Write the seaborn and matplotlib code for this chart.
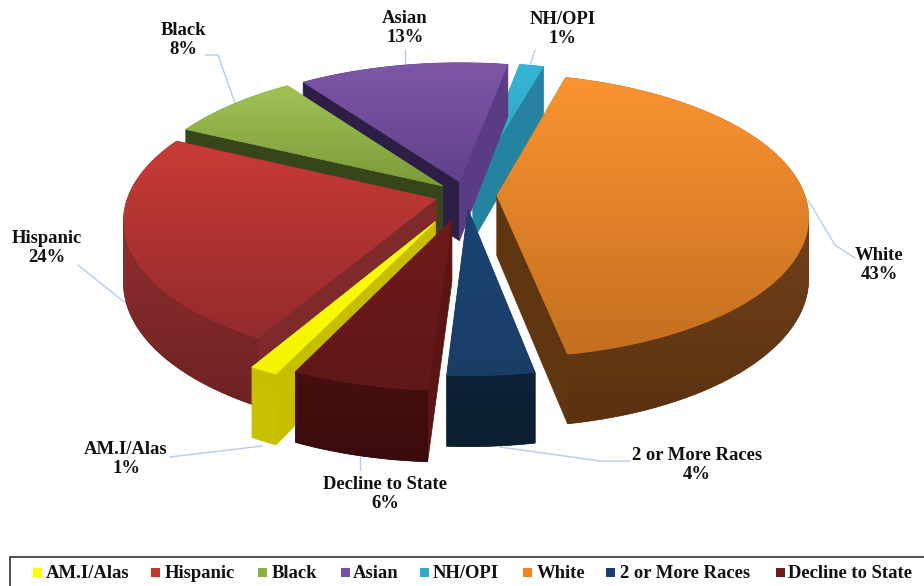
import numpy as np
import seaborn as sns
import matplotlib.pyplot as plt
from matplotlib.patches import Polygon, Rectangle

categories = ['AM.I/Alas','Hispanic','Black','Asian','NH/OPI','White','2 or More Races','Decline to State']
percents   = [1.25,24.0,8.0,12.6,1.45,42.75,3.9,6.05]

legendColors = sns.color_palette(['#ffff00','#c0392f','#8fb03e','#75509f','#31a9c9','#f58220','#1a3f6f','#701a1a'])

# top of slice (far edge, near edge)
topColors  = [('#ffff00','#f4f400'),('#c93b37','#932b2c'),('#a0c255','#7c9c38'),('#7f56a8','#60428a'),
              ('#35b4d6','#2ea3c4'),('#fb9430','#c46f20'),('#1a4370','#1a3d68'),('#701a1a','#5f1717')]
# outer wall (upper, lower)
wallColors = [('#c8be00','#c8c400'),('#8f2e2e','#6e2222'),('#37461a','#37461a'),('#2d1e46','#2d1e46'),
              ('#23829f','#23829f'),('#71411a','#5a3210'),('#0c2238','#0c1e30'),('#470f0f','#3a0b0b')]
# radial walls (first edge, last edge)
edgeColors = [('#c8be00','#c8be00'),('#7f2a2a','#7f2a2a'),('#37461a','#37461a'),('#2d1e46','#5a3c82'),
              ('#25839f','#25839f'),('#7a4413','#5f3610'),('#0c2238','#0c2238'),('#5a1414','#5a1414')]

drawOrder = [4,3,2,5,1,0,6,7]

cx,cy,a,b,k,depth = 466.,195.,308.,139.,0.14,60.
startAngle = 244.8
explode    = [0.21,0.10,0.10,0.10,0.10,0.10,0.10,0.18]

def project(X,Y,Z=0.):
    w = 1+k*Y
    return cx+a*X/w, cy-b*Y/w+depth*Z/w

def shoelace(p):
    p = np.array(p)
    q = np.roll(p,-1,axis=0)
    return np.sum(p[:,0]*q[:,1]-q[:,0]*p[:,1])

def gradientFill(ax,pts,c0,c1,z):
    pts = np.array(pts)
    base = Polygon(pts,closed=True,facecolor=c1,edgecolor=c1,lw=0.5,zorder=z)
    ax.add_patch(base)
    x0,x1,y0,y1 = pts[:,0].min(),pts[:,0].max(),pts[:,1].min(),pts[:,1].max()
    c0,c1 = np.array(sns.color_palette([c0,c1]))
    ramp = np.linspace(0,1,64)[:,None,None]
    img = (c0[None,None,:]*(1-ramp)+c1[None,None,:]*ramp)
    im = ax.imshow(img,extent=(x0,x1,y1,y0),aspect='auto',zorder=z,interpolation='bilinear')
    im.set_clip_path(Polygon(pts,closed=True,transform=ax.transData))

def drawSlice(ax,t0,t1,ex,colTop,colWall,colEdge,z):
    mid = np.radians((t0+t1)/2)
    ox,oy = ex*np.cos(mid),ex*np.sin(mid)
    ts = np.radians(np.linspace(t0,t1,80))
    X,Y = ox+np.cos(ts),oy+np.sin(ts)

    top = [project(ox,oy)]+[project(x,y) for x,y in zip(X,Y)]

    e0 = [project(ox,oy),project(X[0],Y[0]),project(X[0],Y[0],1),project(ox,oy,1)]
    e1 = [project(X[-1],Y[-1]),project(ox,oy),project(ox,oy,1),project(X[-1],Y[-1],1)]
    if shoelace(e0)<0:
        ax.add_patch(Polygon(e0,closed=True,facecolor=colEdge[0],edgecolor=colEdge[0],lw=0.5,zorder=z))
    if shoelace(e1)<0:
        ax.add_patch(Polygon(e1,closed=True,facecolor=colEdge[1],edgecolor=colEdge[1],lw=0.5,zorder=z))

    vis = [i for i in range(len(ts)-1) if shoelace([project(X[i],Y[i]),project(X[i+1],Y[i+1]),
                                                    project(X[i+1],Y[i+1],1),project(X[i],Y[i],1)])<0]
    if vis:
        idx = list(range(vis[0],vis[-1]+2))
        wall = [project(X[i],Y[i]) for i in idx]+[project(X[i],Y[i],1) for i in idx[::-1]]
        gradientFill(ax,wall,colWall[0],colWall[1],z+0.1)

    gradientFill(ax,top,colTop[0],colTop[1],z+0.2)

if __name__ == "__main__":
    sns.set_theme(style='white')
    plt.rcParams['font.family'] = ['Liberation Serif','DejaVu Serif']

    fig = plt.figure(figsize=(9.24,5.86),dpi=100)
    ax = fig.add_axes([0,0,1,1])

    angles = startAngle-3.6*np.concatenate([[0],np.cumsum(percents)])
    for n,i in enumerate(drawOrder):
        drawSlice(ax,angles[i],angles[i+1],explode[i],topColors[i],wallColors[i],edgeColors[i],10+n)

    ax.set_xlim(0,924)
    ax.set_ylim(586,0)
    ax.axis('off')

    # labels and their leader lines
    labelX = [126,47,183,405,563,879,697,385]
    labelY = [459,248,40,28,29,265,465,494]
    for x,y,c,p in zip(labelX,labelY,categories,percents):
        ax.text(x,y,'{:s}\n{:.0f}%'.format(c,p),ha='center',va='center',fontsize=13.4,fontweight='bold',
                color='#111111',linespacing=1.12,zorder=50)

    leaders = [[(170,457),(262,446)],
               [(78,265),(128,305)],
               [(205,55),(218,55),(235,103)],
               [(405,50),(405,65)],
               [(535,50),(530,65)],
               [(855,258),(835,245),(808,200)],
               [(630,461),(600,461),(500,447)],
               [(360,470),(360,455)]]
    for line in leaders:
        xs,ys = zip(*line)
        ax.plot(xs,ys,color='#b4cdec',lw=1,zorder=5)

    # legend box
    ax.add_patch(Rectangle((10,557),930,40,facecolor='white',edgecolor='#333333',lw=1.2,zorder=40,clip_on=True))
    squareX = [33,151,258,341,420,523,606,776]
    textX   = [46,165,272,353,433,537,620,788]
    for sx,tx,c,col in zip(squareX,textX,categories,legendColors):
        ax.add_patch(Rectangle((sx,568),9,9,facecolor=col,edgecolor='none',zorder=41))
        ax.text(tx,573,c,ha='left',va='center',fontsize=13.4,fontweight='bold',color='#111111',zorder=41)

    plt.savefig('out.png',dpi=100)
    plt.close()
